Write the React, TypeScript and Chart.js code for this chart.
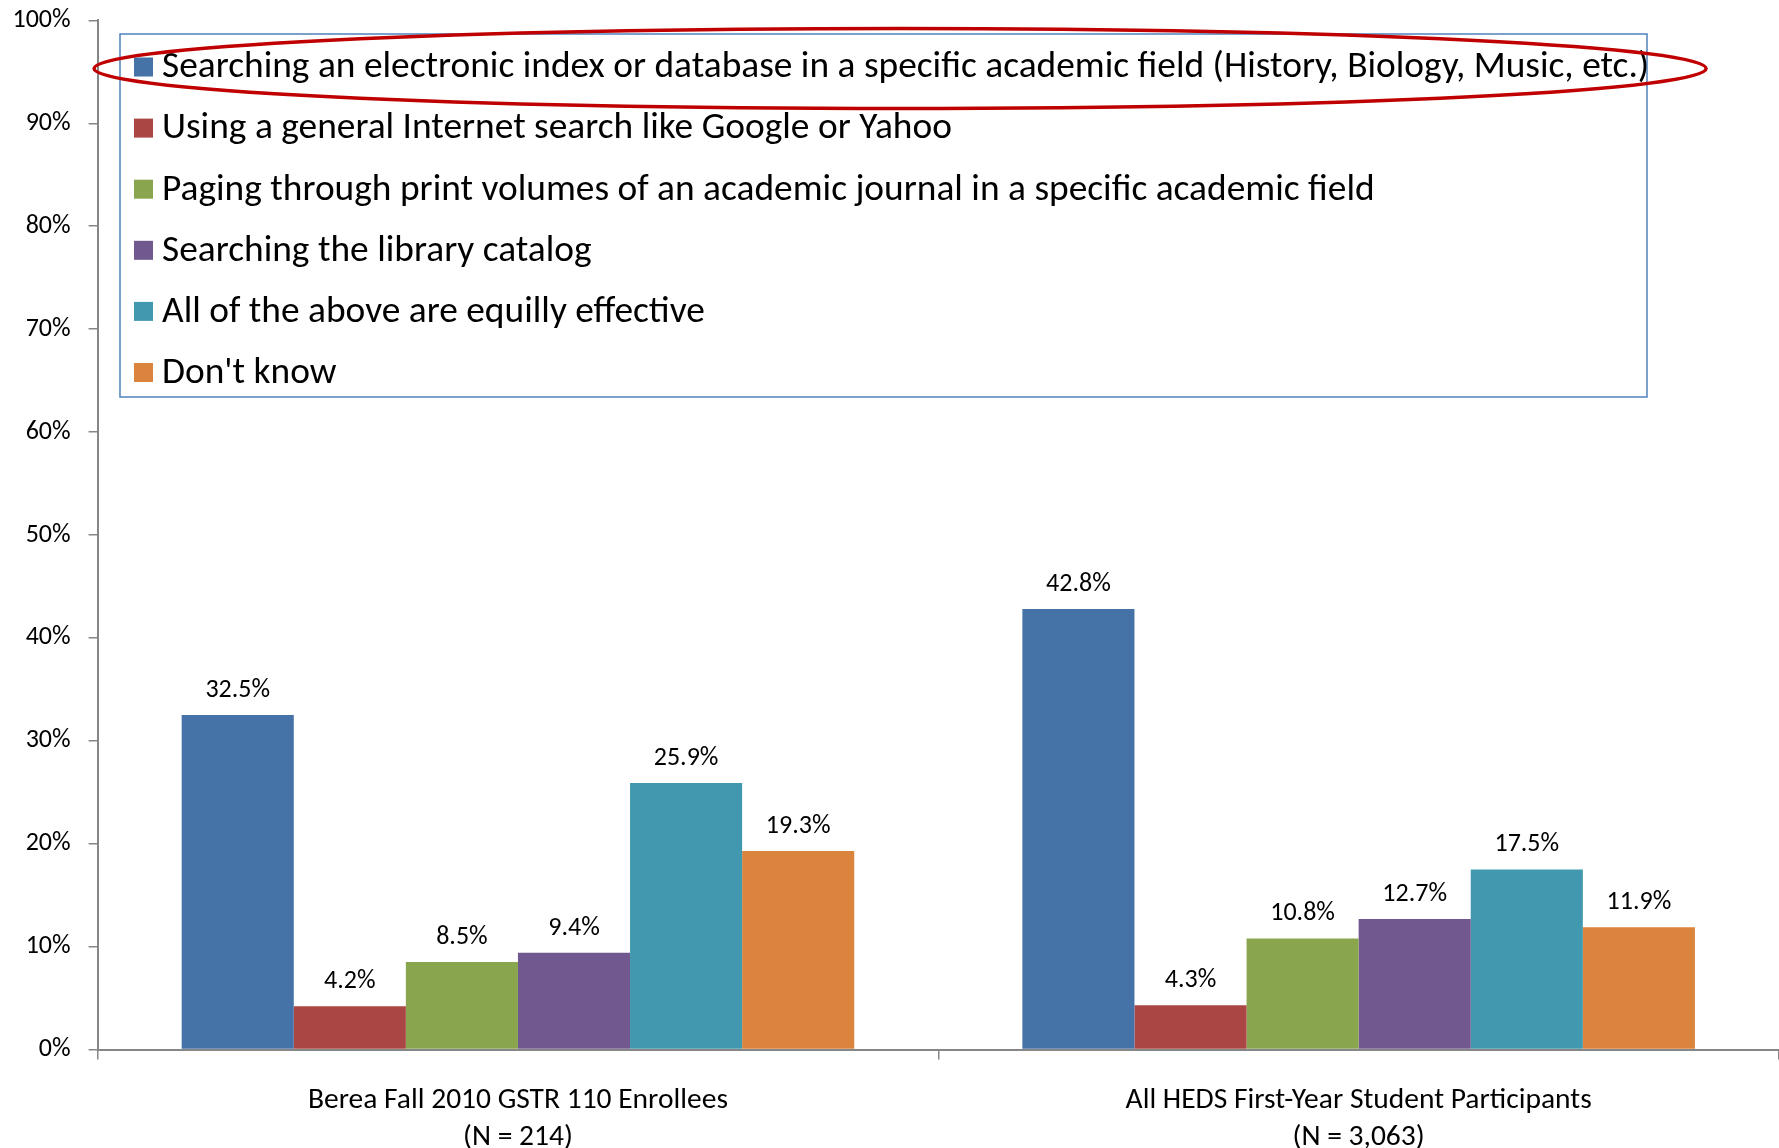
import React, { useEffect, useRef } from "react";
import { Chart, registerables } from "chart.js";

Chart.register(...registerables);

const FONT = "Carlito, 'Liberation Sans', sans-serif";

const categories: string[][] = [
  ["Berea Fall 2010 GSTR 110 Enrollees", "(N = 214)"],
  ["All HEDS First-Year Student Participants", "(N = 3,063)"],
];

const seriesNames = [
  "Searching an electronic index or database in a specific academic field (History, Biology, Music, etc.)",
  "Using a general Internet search like Google or Yahoo",
  "Paging through print volumes of an academic journal in a specific academic field",
  "Searching the library catalog",
  "All of the above are equilly effective",
  "Don't know",
];

const seriesColors = ["#4572A7", "#AA4643", "#89A54E", "#71588F", "#4198AF", "#DB843D"];

const electronicIndex = [32.5, 42.8];
const generalInternet = [4.2, 4.3];
const printVolumes = [8.5, 10.8];
const libraryCatalog = [9.4, 12.7];
const allEqual = [25.9, 17.5];
const dontKnow = [19.3, 11.9];

const seriesValues = [electronicIndex, generalInternet, printVolumes, libraryCatalog, allEqual, dontKnow];

const yMin = 0;
const yMax = 100;
const yStep = 10;

const valueLabels = {
  id: "valueLabels",
  afterDatasetsDraw(chart: any) {
    const ctx = chart.ctx;
    ctx.save();
    ctx.font = `26px ${FONT}`;
    ctx.fillStyle = "#000";
    ctx.textAlign = "center";
    ctx.textBaseline = "middle";
    chart.data.datasets.forEach((ds: any, i: number) => {
      const meta = chart.getDatasetMeta(i);
      meta.data.forEach((bar: any, j: number) => {
        ctx.fillText(ds.data[j].toFixed(1) + "%", bar.x, bar.y - 24.5);
      });
    });
    ctx.restore();
  },
};

const boxLegend = {
  id: "boxLegend",
  afterDraw(chart: any) {
    const ctx = chart.ctx;
    const area = chart.chartArea;
    const left = area.left + 22.4;
    const top = area.top + 13.6;
    const right = 1647;
    const bottom = 397;
    const rowH = 61.1;
    const firstRow = top + 33;
    ctx.save();
    ctx.fillStyle = "#fff";
    ctx.fillRect(left, top, right - left, bottom - top);
    ctx.strokeStyle = "#4F81BD";
    ctx.lineWidth = 1.5;
    ctx.strokeRect(left, top, right - left, bottom - top);
    ctx.font = `37.4px ${FONT}`;
    ctx.textBaseline = "middle";
    ctx.textAlign = "left";
    let firstEnd = 0;
    const sw = 19;
    const swX = left + 14;
    const txX = left + 42;
    chart.data.datasets.forEach((ds: any, i: number) => {
      const cy = firstRow + i * rowH;
      ctx.fillStyle = ds.backgroundColor;
      ctx.fillRect(swX, cy - sw / 2, sw, sw);
      ctx.fillStyle = "#000";
      ctx.fillText(ds.label, txX, cy + 1);
      if (i === 0) firstEnd = txX + ctx.measureText(ds.label).width;
    });
    // highlight ellipse around first legend entry
    const eLeft = swX - 40;
    const eRight = firstEnd + 57;
    const cx = (eLeft + eRight) / 2;
    const cy = firstRow + 1.5;
    ctx.beginPath();
    ctx.ellipse(cx, cy, (eRight - eLeft) / 2, 40, 0, 0, Math.PI * 2);
    ctx.strokeStyle = "#C00000";
    ctx.lineWidth = 3.5;
    ctx.stroke();
    ctx.restore();
  },
};

export default function App() {
  const ref = useRef<HTMLCanvasElement | null>(null);
  useEffect(() => {
    if (!ref.current) return;
    const chart = new Chart(ref.current, {
      type: "bar",
      data: {
        labels: categories as any,
        datasets: seriesNames.map((name, i) => ({
          label: name,
          data: seriesValues[i],
          backgroundColor: seriesColors[i],
          borderWidth: 0,
          categoryPercentage: 0.8,
          barPercentage: 1.0,
        })),
      },
      options: {
        responsive: false,
        animation: false,
        devicePixelRatio: 1,
        layout: { padding: { left: 0, top: 20.4, right: 0, bottom: 0 } },
        plugins: {
          legend: { display: false },
          tooltip: { enabled: false },
        },
        scales: {
          x: {
            grid: {
              offset: true,
              drawOnChartArea: false,
              drawTicks: true,
              tickLength: 10,
              color: "#868686",
              lineWidth: 1.5,
            },
            border: { color: "#868686", width: 2 },
            ticks: {
              color: "#000",
              font: { family: FONT, size: 29.5, lineHeight: 1.26 },
              padding: 22.5,
              maxRotation: 0,
            },
            afterFit(scale: any) {
              scale.height = 98.4;
              scale.paddingLeft = 0;
              scale.paddingRight = 0;
            },
          },
          y: {
            min: yMin,
            max: yMax,
            grid: {
              drawOnChartArea: false,
              drawTicks: true,
              tickLength: 9,
              color: "#868686",
              lineWidth: 1.5,
            },
            border: { color: "#868686", width: 2 },
            ticks: {
              stepSize: yStep,
              color: "#000",
              font: { family: FONT, size: 26 },
              padding: 18,
              callback: (v: any) => v + "%",
            },
            afterFit(scale: any) {
              scale.width = 97.6;
              scale.paddingTop = 0;
              scale.paddingBottom = 0;
            },
          },
        },
      },
      plugins: [valueLabels, boxLegend],
    });
    return () => chart.destroy();
  }, []);
  return (
    <div style={{ position: "absolute", left: 0, top: 0, width: 1779, height: 1148, background: "#fff" }}>
      <canvas ref={ref} width={1779} height={1148} style={{ display: "block" }} />
    </div>
  );
}
